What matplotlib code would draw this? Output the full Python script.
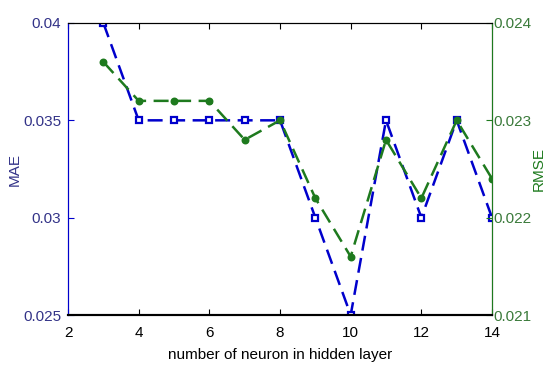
"""MAE / RMSE versus hidden layer size, two y axes."""

import matplotlib.pyplot as plt
from matplotlib.ticker import FuncFormatter

neurons = [3, 4, 5, 6, 7, 8, 9, 10, 11, 12, 13, 14]
mae = [0.040, 0.035, 0.035, 0.035, 0.035, 0.035, 0.030, 0.025, 0.035, 0.030, 0.035, 0.030]
rmse = [0.0236, 0.0232, 0.0232, 0.0232, 0.0228, 0.0230, 0.0222, 0.0216, 0.0228, 0.0222, 0.0230, 0.0224]

mae_ticks = [0.025, 0.03, 0.035, 0.04]
rmse_ticks = [0.021, 0.022, 0.023, 0.024]
x_ticks = [2, 4, 6, 8, 10, 12, 14]

blue = "#0000cc"
green = "#1e7a1e"

plt.rcParams["font.family"] = ["Liberation Sans", "DejaVu Sans"]
plt.rcParams["font.size"] = 11

fig = plt.figure(figsize=(5.45, 3.69), dpi=100)
ax = fig.add_axes([0.1248, 0.1463, 0.7780, 0.7914])
ax2 = ax.twinx()

fmt = FuncFormatter(lambda v, _: f"{v:g}")

ax.plot(neurons, mae, "--s", color=blue, linewidth=1.8, markersize=5,
        markerfacecolor="white", markeredgewidth=1.6, dashes=(6, 3))
ax.set_xlim(2, 14)
ax.set_ylim(0.025, 0.04)
ax.set_xticks(x_ticks)
ax.set_yticks(mae_ticks)
ax.yaxis.set_major_formatter(fmt)
ax.set_xlabel("number of neuron in hidden layer", labelpad=6)
ax.set_ylabel("MAE", color="#333388", labelpad=1)
ax.tick_params(axis="x", direction="in", top=True, length=4, pad=8)
ax.tick_params(axis="y", direction="in", colors=blue, labelcolor="#333388", length=4, pad=5)

ax2.plot(neurons, rmse, "--o", color=green, linewidth=1.8, markersize=4.5,
         markerfacecolor=green, markeredgewidth=1.2, dashes=(6, 3))
ax2.set_ylim(0.021, 0.024)
ax2.set_yticks(rmse_ticks)
ax2.yaxis.set_major_formatter(fmt)
ax2.set_ylabel("RMSE", color=green, labelpad=0)
ax2.tick_params(axis="y", direction="in", colors=green, labelcolor="#3a7a3a", length=4,
                pad=1)

for a in (ax, ax2):
    a.spines["top"].set_color("black")
    a.spines["bottom"].set_color("black")
    a.spines["bottom"].set_linewidth(1.5)
ax2.spines["left"].set_color(blue)
ax2.spines["right"].set_color(green)
ax.spines["left"].set_color(blue)

fig.savefig("out.png", dpi=100)
